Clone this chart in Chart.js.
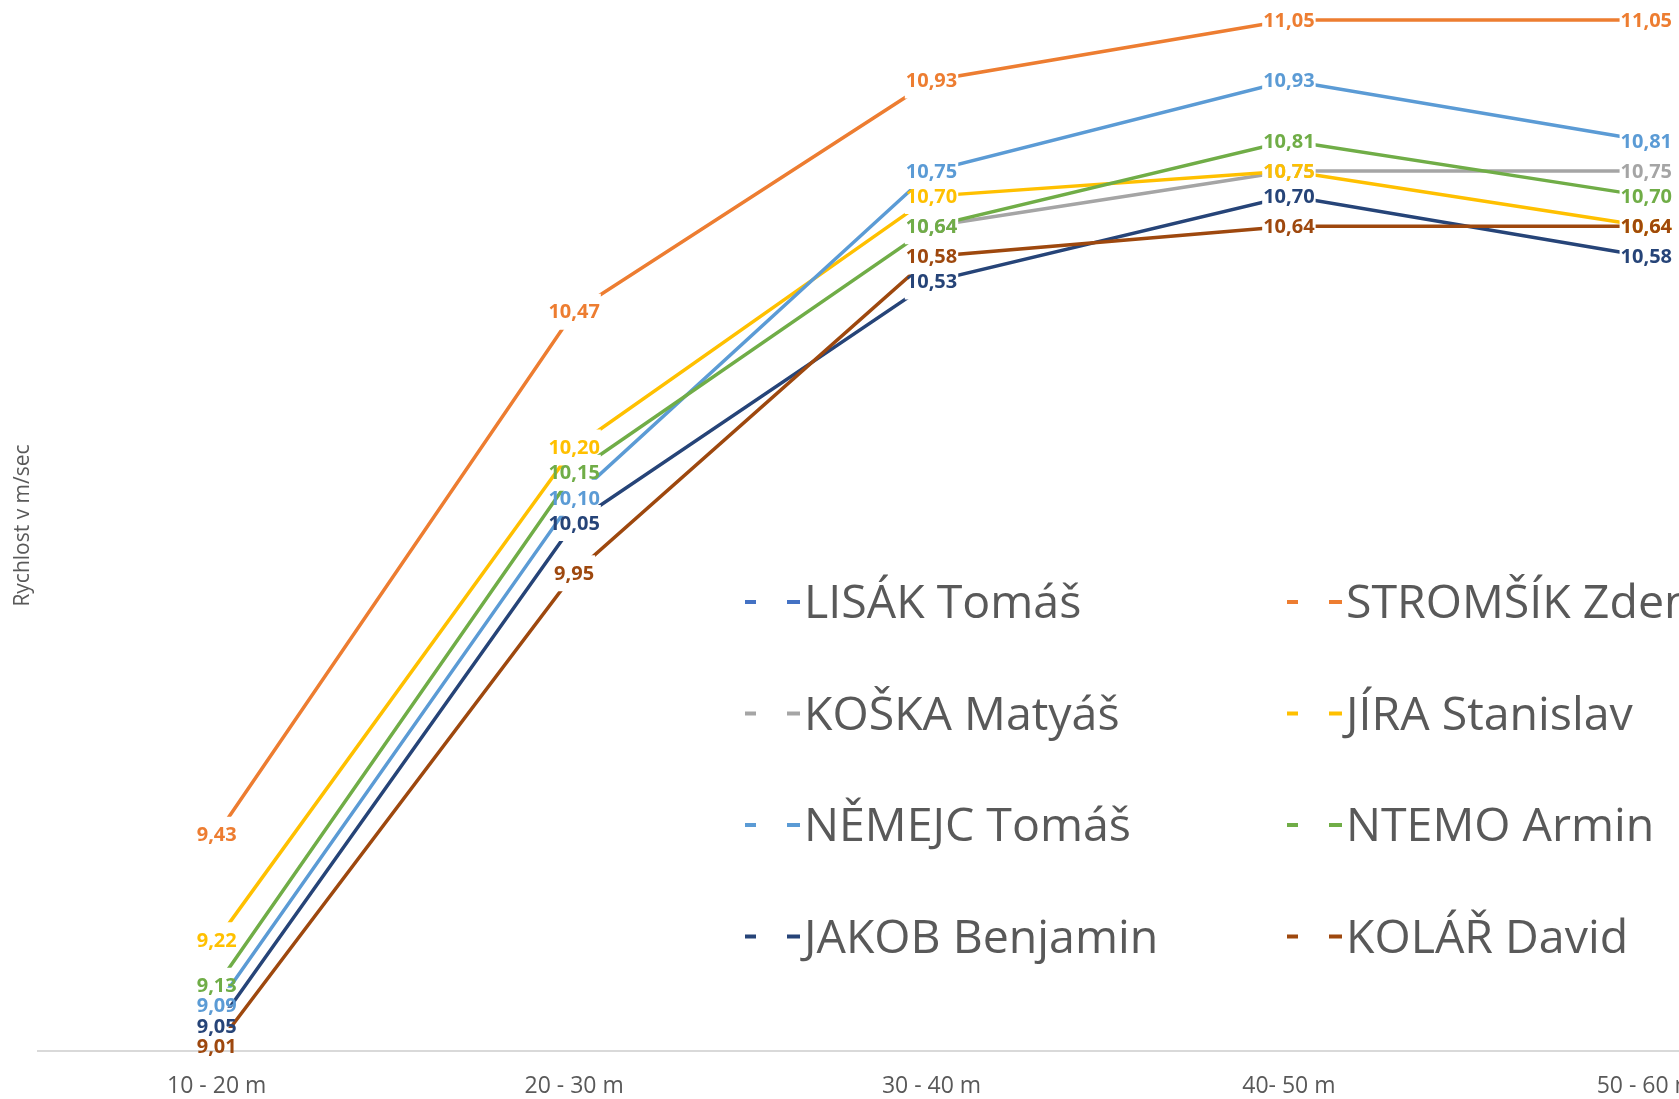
<!DOCTYPE html>
<html>
<head>
<meta charset="utf-8">
<script src="https://cdn.jsdelivr.net/npm/chart.js@4.4.0/dist/chart.umd.min.js"></script>
<style>
  html, body { margin: 0; padding: 0; background: #fff; overflow: hidden; width: 1679px; height: 1099px; }
  #wrap { position: absolute; left: 0; top: 0; width: 1825px; height: 1099px; }
</style>
</head>
<body>
<div id="wrap"><canvas id="chart" width="1825" height="1099"></canvas></div>
<script>
// --- Data ---
const categories = ['10 - 20 m', '20 - 30 m', '30 - 40 m', '40- 50 m', '50 - 60 m'];
const riders = ['LISÁK Tomáš', 'STROMŠÍK Zdeněk', 'KOŠKA Matyáš', 'JÍRA Stanislav',
                'NĚMEJC Tomáš', 'NTEMO Armin', 'JAKOB Benjamin', 'KOLÁŘ David'];
const colors = ['#4472C4', '#ED7D31', '#A5A5A5', '#FFC000', '#5B9BD5', '#70AD47', '#264478', '#9E480E'];

const lisak    = [null, null, null, null, null];
const stromsik = [9.43, 10.47, 10.93, 11.05, 11.05];
const koska    = [null, null, 10.64, 10.75, 10.75];
const jira     = [9.22, 10.20, 10.70, 10.75, 10.64];
const nemejc   = [9.09, 10.10, 10.75, 10.93, 10.81];
const ntemo    = [9.13, 10.15, 10.64, 10.81, 10.70];
const jakob    = [9.05, 10.05, 10.53, 10.70, 10.58];
const kolar    = [9.01, 9.95, 10.58, 10.64, 10.64];
const series = [lisak, stromsik, koska, jira, nemejc, ntemo, jakob, kolar];

const yTitle = 'Rychlost v m/sec';
const FONT = '"Open Sans", "DejaVu Sans", sans-serif';
const LABEL_FONT = 'bold 20px ' + FONT;

function fmt(v) { return v.toFixed(2).replace('.', ','); }

// --- Plugins ---
// cut the line of each series around its own value labels (like Excel does)
const labelGaps = {
  id: 'labelGaps',
  beforeDatasetDraw(chart, args) {
    const ctx = chart.ctx;
    const data = chart.data.datasets[args.index].data;
    ctx.save();
    ctx.font = LABEL_FONT;
    ctx.beginPath();
    ctx.rect(0, 0, chart.width, chart.height);
    args.meta.data.forEach((pt, i) => {
      if (data[i] == null || isNaN(pt.y)) return;
      const w = ctx.measureText(fmt(data[i])).width;
      ctx.rect(pt.x - w / 2 - 1, pt.y - 18, w + 2, 36);
    });
    ctx.clip('evenodd');
  },
  afterDatasetDraw(chart) {
    chart.ctx.restore();
  }
};

const valueLabels = {
  id: 'valueLabels',
  afterDatasetsDraw(chart) {
    const ctx = chart.ctx;
    ctx.save();
    ctx.font = LABEL_FONT;
    ctx.textAlign = 'center';
    ctx.textBaseline = 'middle';
    chart.data.datasets.forEach((ds, di) => {
      const meta = chart.getDatasetMeta(di);
      ctx.fillStyle = colors[di];
      meta.data.forEach((pt, i) => {
        if (ds.data[i] == null || isNaN(pt.y)) return;
        ctx.fillText(fmt(ds.data[i]), pt.x, pt.y + 1);
      });
    });
    ctx.restore();
  }
};

const bigLegend = {
  id: 'bigLegend',
  afterDraw(chart) {
    const ctx = chart.ctx;
    ctx.save();
    ctx.font = '46.5px ' + FONT;
    ctx.textBaseline = 'alphabetic';
    ctx.textAlign = 'left';
    riders.forEach((name, i) => {
      const col = i % 2, row = Math.floor(i / 2);
      const x = 745 + col * 542;
      const y = 602 + row * 111.5;
      ctx.fillStyle = colors[i];
      ctx.fillRect(x, y - 2, 11, 4);
      ctx.fillRect(x + 42, y - 2, 13, 4);
      ctx.fillStyle = '#595959';
      ctx.fillText(name, x + 59, y + 16);
    });
    ctx.restore();
  }
};

// --- Chart ---
const ctx = document.getElementById('chart').getContext('2d');
new Chart(ctx, {
  type: 'line',
  data: {
    labels: categories,
    datasets: series.map((d, i) => ({
      label: riders[i],
      data: d,
      borderColor: colors[i],
      backgroundColor: colors[i],
      borderWidth: 3.5,
      pointRadius: 0,
      tension: 0,
      fill: false,
      spanGaps: false,
      order: series.length - i,
    }))
  },
  options: {
    responsive: false,
    animation: false,
    events: [],
    layout: { padding: 0 },
    plugins: {
      legend: { display: false },
      tooltip: { enabled: false },
    },
    scales: {
      x: {
        offset: true,
        grid: { display: false, drawTicks: false, offset: true },
        border: { display: true, color: '#D9D9D9', width: 2 },
        ticks: { color: '#595959', font: { family: FONT, size: 23 }, padding: 22, maxRotation: 0, autoSkip: false },
        afterFit(scale) { scale.height = 48; },
      },
      y: {
        min: 9,
        max: 11.09,
        grid: { display: false },
        border: { display: false },
        ticks: { display: false },
        title: { display: true, text: yTitle, color: '#595959', font: { family: FONT, size: 21 }, padding: { top: 10, bottom: 0 } },
        afterFit(scale) { scale.width = 38; },
      }
    }
  },
  plugins: [labelGaps, valueLabels, bigLegend]
});
</script>
</body>
</html>
